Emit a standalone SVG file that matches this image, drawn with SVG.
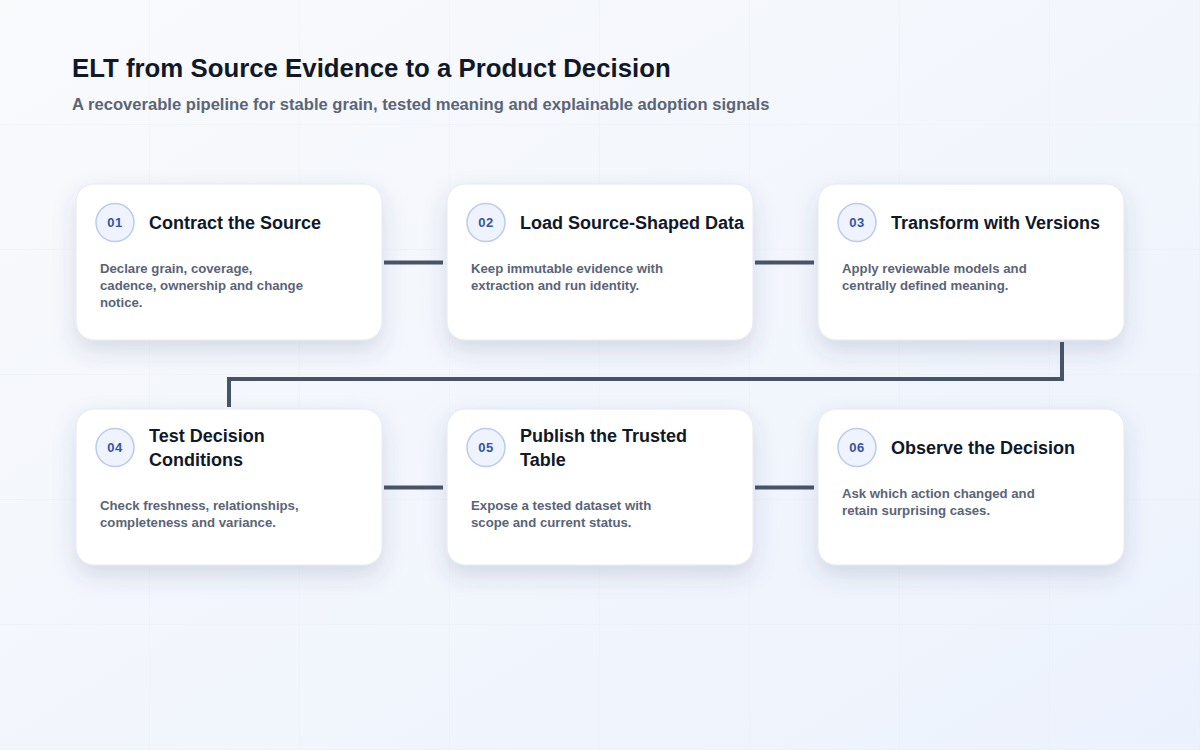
<svg xmlns="http://www.w3.org/2000/svg" width="1200" height="750" viewBox="0 0 1200 750">
  <defs>
    <linearGradient id="bg" x1="0" y1="0" x2="1" y2="1">
      <stop offset="0" stop-color="#f9fafc"/>
      <stop offset="1" stop-color="#ecf2fd"/>
    </linearGradient>
    <pattern id="grid" x="0" y="0" width="150" height="125" patternUnits="userSpaceOnUse">
      <path d="M150 0 V125 M0 125 H150" fill="none" stroke="#e4e9f1" stroke-width="1" opacity="0.6"/>
    </pattern>
    <filter id="shadow" x="-20%" y="-20%" width="140%" height="160%">
      <feDropShadow dx="0" dy="10" stdDeviation="11" flood-color="#3a4a78" flood-opacity="0.17"/>
    </filter>
  </defs>
  <style>
    .card { fill: #ffffff; stroke: #e3e8f1; stroke-width: 1; filter: url(#shadow); }
    .badge { fill: #eef3fd; stroke: #b9cbee; stroke-width: 1.5; }
    .num { font-family: "Liberation Sans", Arial, sans-serif; font-size: 13px; font-weight: 700; fill: #3653a3; letter-spacing: 0.6px; text-anchor: middle; }
    .title { font-family: "Liberation Sans", Arial, sans-serif; font-size: 18px; font-weight: 700; fill: #111827; }
    .desc { font-family: "Liberation Sans", Arial, sans-serif; font-size: 13.2px; font-weight: 700; fill: #5b6477; }
    .h1 { font-family: "Liberation Sans", Arial, sans-serif; font-size: 25.8px; font-weight: 700; fill: #111827; }
    .h2 { font-family: "Liberation Sans", Arial, sans-serif; font-size: 16.6px; font-weight: 700; fill: #5b6577; }
    .conn { fill: none; stroke: #475467; stroke-width: 4; }
  </style>

  <rect width="1200" height="750" fill="url(#bg)"/>
  <rect width="1200" height="750" fill="url(#grid)"/>

  <g id="header">
    <text class="h1" x="72" y="77">ELT from Source Evidence to a Product Decision</text>
    <text class="h2" x="72" y="110">A recoverable pipeline for stable grain, tested meaning and explainable adoption signals</text>
  </g>

  <g id="connectors">
    <path class="conn" d="M384 262.5 H443"/>
    <path class="conn" d="M755 262.5 H814"/>
    <path class="conn" d="M1062 342 V379 H229 V407"/>
    <path class="conn" d="M384 487.5 H443"/>
    <path class="conn" d="M755 487.5 H814"/>
  </g>

  <g id="step01">
    <rect class="card" x="76" y="184" width="306" height="156" rx="18"/>
    <circle class="badge" cx="115" cy="222.5" r="19"/>
    <text class="num" x="115" y="227">01</text>
    <text class="title" x="149" y="229">Contract the Source</text>
    <text class="desc" x="100" y="273">Declare grain, coverage,</text>
    <text class="desc" x="100" y="290">cadence, ownership and change</text>
    <text class="desc" x="100" y="307">notice.</text>
  </g>

  <g id="step02">
    <rect class="card" x="447" y="184" width="306" height="156" rx="18"/>
    <circle class="badge" cx="486" cy="222.5" r="19"/>
    <text class="num" x="486" y="227">02</text>
    <text class="title" x="520" y="229">Load Source-Shaped Data</text>
    <text class="desc" x="471" y="273">Keep immutable evidence with</text>
    <text class="desc" x="471" y="290">extraction and run identity.</text>
  </g>

  <g id="step03">
    <rect class="card" x="818" y="184" width="306" height="156" rx="18"/>
    <circle class="badge" cx="857" cy="222.5" r="19"/>
    <text class="num" x="857" y="227">03</text>
    <text class="title" x="891" y="229">Transform with Versions</text>
    <text class="desc" x="842" y="273">Apply reviewable models and</text>
    <text class="desc" x="842" y="290">centrally defined meaning.</text>
  </g>

  <g id="step04">
    <rect class="card" x="76" y="409" width="306" height="156" rx="18"/>
    <circle class="badge" cx="115" cy="447.5" r="19"/>
    <text class="num" x="115" y="452">04</text>
    <text class="title" x="149" y="442">Test Decision</text>
    <text class="title" x="149" y="466">Conditions</text>
    <text class="desc" x="100" y="510">Check freshness, relationships,</text>
    <text class="desc" x="100" y="527">completeness and variance.</text>
  </g>

  <g id="step05">
    <rect class="card" x="447" y="409" width="306" height="156" rx="18"/>
    <circle class="badge" cx="486" cy="447.5" r="19"/>
    <text class="num" x="486" y="452">05</text>
    <text class="title" x="520" y="442">Publish the Trusted</text>
    <text class="title" x="520" y="466">Table</text>
    <text class="desc" x="471" y="510">Expose a tested dataset with</text>
    <text class="desc" x="471" y="527">scope and current status.</text>
  </g>

  <g id="step06">
    <rect class="card" x="818" y="409" width="306" height="156" rx="18"/>
    <circle class="badge" cx="857" cy="447.5" r="19"/>
    <text class="num" x="857" y="452">06</text>
    <text class="title" x="891" y="454">Observe the Decision</text>
    <text class="desc" x="842" y="498">Ask which action changed and</text>
    <text class="desc" x="842" y="515">retain surprising cases.</text>
  </g>
</svg>
